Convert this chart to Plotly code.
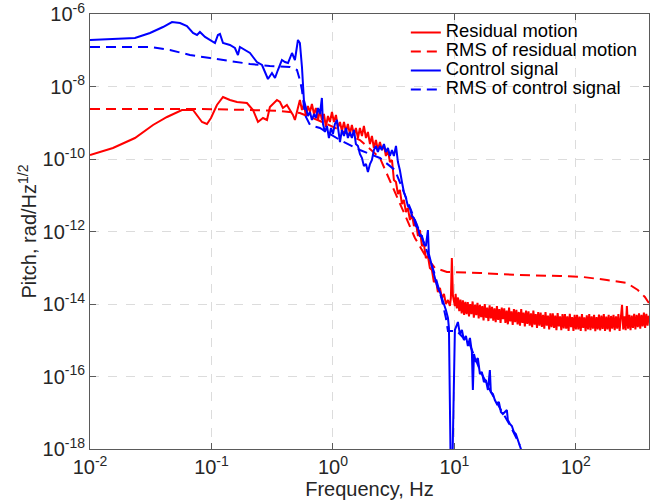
import numpy as np
import plotly.graph_objects as go

# ---------------- data (log10 of frequency in Hz, log10 of amplitude in rad/Hz^1/2) ----------------
# Residual motion (red solid)
resid_low_logf = [-2.000, -1.811, -1.630, -1.481, -1.366, -1.243, -1.152, -1.078, -1.037, -1.004,
                  -0.955, -0.905, -0.848, -0.790, -0.708, -0.658, -0.617, -0.576, -0.543, -0.519,
                  -0.461, -0.436, -0.412, -0.379, -0.354, -0.329, -0.313, -0.288]
resid_low_loga = [-9.890, -9.697, -9.421, -9.062, -8.841, -8.648, -8.648, -8.979, -9.034, -8.869,
                  -8.510, -8.290, -8.372, -8.428, -8.455, -8.648, -8.979, -8.869, -8.924, -8.566,
                  -8.372, -8.428, -8.593, -8.510, -8.648, -8.786, -8.924, -8.566]

resid_mid_logf = [-0.272, -0.255, -0.239, -0.222, -0.206, -0.189, -0.173, -0.156, -0.140, -0.123,
                  -0.107, -0.091, -0.074, -0.058, -0.041, -0.025, -0.008, 0.008, 0.025, 0.041,
                  0.058, 0.074, 0.091, 0.107, 0.123, 0.140, 0.156, 0.173, 0.189, 0.206,
                  0.222, 0.239, 0.255, 0.272, 0.288, 0.305, 0.321, 0.337, 0.354, 0.370,
                  0.387, 0.403, 0.420, 0.436, 0.453, 0.469, 0.486, 0.502, 0.519, 0.535,
                  0.551, 0.568, 0.584, 0.601, 0.617, 0.634, 0.650, 0.667, 0.683, 0.700,
                  0.716, 0.733, 0.749, 0.765, 0.782, 0.798, 0.815, 0.831, 0.848, 0.864,
                  0.881, 0.897, 0.914, 0.930, 0.947, 0.963, 0.971, 0.979, 0.988, 1.004]
resid_mid_loga = [-8.372, -8.648, -8.483, -8.814, -8.538, -8.703, -8.483, -8.759, -8.593, -8.924,
                  -8.648, -8.924, -8.759, -9.117, -8.814, -8.979, -8.703, -8.979, -8.786, -9.145,
                  -8.979, -9.228, -8.979, -9.255, -9.034, -9.310, -9.062, -9.338, -9.145, -9.421,
                  -9.145, -9.366, -9.090, -9.421, -9.255, -9.586, -9.366, -9.697, -9.476, -9.752,
                  -9.531, -9.752, -9.614, -9.917, -9.752, -10.083, -10.028, -10.579, -10.634, -10.966,
                  -10.855, -11.241, -11.131, -11.462, -11.352, -11.683, -11.517, -11.848, -11.738, -12.124,
                  -11.959, -12.400, -12.345, -12.731, -12.676, -13.007, -13.062, -13.393, -13.338, -13.669,
                  -13.559, -13.834, -13.724, -14.000, -13.890, -14.055, -13.834, -12.731, -13.779, -14.055]

resid_floor_logf = [1.01, 1.02, 1.03, 1.04, 1.05, 1.06, 1.07, 1.08, 1.09, 1.10,
                    1.11, 1.12, 1.13, 1.14, 1.15, 1.16, 1.17, 1.18, 1.19, 1.20,
                    1.21, 1.22, 1.23, 1.24, 1.25, 1.26, 1.27, 1.28, 1.29, 1.30,
                    1.31, 1.32, 1.33, 1.34, 1.35, 1.36, 1.37, 1.38, 1.39, 1.40,
                    1.41, 1.42, 1.43, 1.44, 1.45, 1.46, 1.47, 1.48, 1.49, 1.50,
                    1.51, 1.52, 1.53, 1.54, 1.55, 1.56, 1.57, 1.58, 1.59, 1.60,
                    1.61, 1.62, 1.63, 1.64, 1.65, 1.66, 1.67, 1.68, 1.69, 1.70,
                    1.71, 1.72, 1.73, 1.74, 1.75, 1.76, 1.77, 1.78, 1.79, 1.80,
                    1.81, 1.82, 1.83, 1.84, 1.85, 1.86, 1.87, 1.88, 1.89, 1.90,
                    1.91, 1.92, 1.93, 1.94, 1.95, 1.96, 1.97, 1.98, 1.99, 2.00,
                    2.01, 2.02, 2.03, 2.04, 2.05, 2.06, 2.07, 2.08, 2.09, 2.10,
                    2.11, 2.12, 2.13, 2.14, 2.15, 2.16, 2.17, 2.18, 2.19, 2.20,
                    2.21, 2.22, 2.23, 2.24, 2.25, 2.26, 2.27, 2.28, 2.29, 2.30,
                    2.31, 2.32, 2.33, 2.34, 2.35, 2.36, 2.37, 2.38, 2.39, 2.40,
                    2.41, 2.42, 2.43, 2.44, 2.45, 2.46, 2.47, 2.48, 2.49, 2.50,
                    2.51, 2.52, 2.53, 2.54, 2.55, 2.56, 2.57, 2.58, 2.59, 2.60]
resid_floor_loga = [-13.72, -14.12, -13.82, -14.20, -13.88, -14.26, -13.90, -14.30, -13.94, -14.28,
                    -13.95, -14.34, -14.00, -14.28, -13.93, -14.38, -14.02, -14.31, -13.97, -14.40,
                    -14.02, -14.36, -14.06, -14.45, -14.00, -14.38, -14.10, -14.47, -14.04, -14.40,
                    -14.08, -14.46, -14.12, -14.50, -14.06, -14.44, -14.14, -14.52, -14.10, -14.42,
                    -14.12, -14.52, -14.18, -14.56, -14.10, -14.48, -14.20, -14.58, -14.14, -14.50,
                    -14.16, -14.56, -14.22, -14.60, -14.14, -14.52, -14.24, -14.62, -14.18, -14.55,
                    -14.20, -14.60, -14.26, -14.64, -14.18, -14.57, -14.28, -14.66, -14.22, -14.60,
                    -14.24, -14.63, -14.30, -14.68, -14.22, -14.60, -14.32, -14.70, -14.26, -14.64,
                    -14.26, -14.66, -14.32, -14.72, -14.25, -14.62, -14.34, -14.72, -14.28, -14.67,
                    -14.28, -14.68, -14.34, -14.74, -14.27, -14.64, -14.36, -14.74, -14.30, -14.70,
                    -14.30, -14.70, -14.35, -14.74, -14.28, -14.66, -14.37, -14.75, -14.31, -14.70,
                    -14.28, -14.72, -14.34, -14.68, -14.30, -14.75, -14.36, -14.70, -14.29, -14.73,
                    -14.32, -14.69, -14.28, -14.74, -14.35, -14.70, -14.30, -14.76, -14.33, -14.68,
                    -14.30, -14.72, -14.34, -14.68, -14.28, -14.74, -14.32, -14.02, -14.70, -14.34,
                    -14.72, -14.06, -14.68, -14.30, -14.72, -14.32, -14.66, -14.27, -14.70, -14.30,
                    -14.64, -14.26, -14.68, -14.30, -14.62, -14.24, -14.66, -14.27, -14.60, -14.32]

# RMS of residual motion (red dashed)
rms_resid_logf = [-2.000, -1.095, -0.683, -0.436, -0.272, -0.107, 0.058, 0.222, 0.387, 0.510,
                  0.593, 0.675, 0.757, 0.840, 0.938, 1.210, 1.539, 1.868, 2.058, 2.255,
                  2.420, 2.510, 2.568, 2.601]
rms_resid_loga = [-8.621, -8.621, -8.648, -8.676, -8.731, -8.952, -9.200, -9.476, -9.972, -10.938,
                  -11.545, -12.179, -12.648, -13.007, -13.117, -13.145, -13.200, -13.228, -13.255, -13.338,
                  -13.421, -13.614, -13.807, -13.972]

# Control signal (blue solid)
ctrl_low_logf = [-2.000, -1.630, -1.506, -1.399, -1.325, -1.259, -1.202, -1.152, -1.119, -1.095,
                 -1.053, -1.012, -0.971, -0.947, -0.930, -0.905, -0.848, -0.807, -0.782, -0.766,
                 -0.724, -0.683, -0.658, -0.626, -0.584, -0.560, -0.535, -0.502, -0.477, -0.453,
                 -0.420, -0.395, -0.370, -0.337, -0.313]
ctrl_low_loga = [-6.717, -6.662, -6.524, -6.359, -6.221, -6.248, -6.331, -6.524, -6.579, -6.497,
                 -6.634, -6.717, -6.800, -6.579, -6.552, -6.800, -6.855, -6.938, -7.131, -6.910,
                 -6.993, -7.076, -7.186, -7.324, -7.407, -7.600, -7.793, -7.628, -7.766, -7.545,
                 -7.269, -7.324, -7.352, -7.076, -7.269]

ctrl_mid_logf = [-0.288, -0.272, -0.255, -0.247, -0.239, -0.222, -0.206, -0.189, -0.173, -0.156,
                 -0.140, -0.123, -0.107, -0.091, -0.082, -0.066, -0.049, -0.033, -0.016, 0.000,
                 0.016, 0.033, 0.049, 0.058, 0.074, 0.091, 0.107, 0.123, 0.140, 0.156,
                 0.173, 0.189, 0.206, 0.222, 0.239, 0.255, 0.272, 0.288, 0.305, 0.321,
                 0.337, 0.354, 0.370, 0.387, 0.403, 0.420, 0.436, 0.453, 0.469, 0.486,
                 0.502, 0.519, 0.535, 0.551, 0.568, 0.584, 0.601, 0.617, 0.634, 0.650,
                 0.667, 0.683, 0.700, 0.716, 0.733, 0.749, 0.765, 0.782, 0.790, 0.798,
                 0.815, 0.831, 0.848, 0.864, 0.881, 0.897, 0.914, 0.930, 0.947, 0.955,
                 0.975, 1.004]
ctrl_mid_loga = [-6.717, -6.800, -7.462, -8.014, -8.372, -8.593, -8.814, -8.703, -8.924, -8.759,
                 -8.869, -8.593, -8.759, -8.317, -9.034, -9.255, -9.090, -9.421, -9.145, -9.310,
                 -9.034, -8.924, -9.310, -9.531, -9.200, -9.366, -9.145, -9.421, -9.255, -9.421,
                 -9.200, -9.586, -9.641, -9.862, -9.972, -10.193, -10.138, -10.359, -10.138, -10.028,
                 -9.752, -9.641, -9.807, -9.641, -9.752, -9.586, -9.807, -9.697, -9.917, -9.752,
                 -9.917, -9.641, -10.083, -10.303, -10.634, -10.910, -11.076, -11.297, -11.352, -11.572,
                 -11.628, -11.848, -11.903, -12.124, -12.124, -12.345, -12.400, -11.959, -12.621, -12.731,
                 -13.007, -13.172, -13.393, -13.559, -13.669, -13.834, -14.000, -14.166, -14.386, -14.662,
                 -20.000, -14.717]

ctrl_high_logf = [1.029, 1.045, 1.062, 1.078, 1.095, 1.111, 1.128, 1.144, 1.152, 1.161,
                  1.177, 1.193, 1.210, 1.226, 1.243, 1.259, 1.276, 1.292, 1.300, 1.317,
                  1.333, 1.350, 1.366, 1.383, 1.399, 1.416, 1.432, 1.440, 1.457, 1.473,
                  1.490, 1.506, 1.523, 1.539, 1.556]
ctrl_high_loga = [-14.497, -14.828, -14.717, -14.993, -14.883, -15.159, -14.938, -15.324, -16.372, -15.379,
                  -15.600, -15.490, -15.931, -15.876, -16.152, -16.097, -16.372, -15.821, -16.428, -16.483,
                  -16.648, -16.759, -16.703, -16.979, -17.034, -16.979, -16.924, -17.200, -17.310, -17.366,
                  -17.531, -17.586, -17.752, -17.862, -18.083]

# RMS of control signal (blue dashed)
rms_ctrl_logf = [-2.000, -1.506, -1.342, -1.177, -1.012, -0.848, -0.683, -0.519, -0.354, -0.296,
                 -0.272, -0.255, -0.230, -0.189, -0.107, 0.058, 0.222, 0.387, 0.510, 0.593,
                 0.675, 0.757, 0.840, 0.897, 0.930, 0.947, 1.021, 1.062, 1.128, 1.210,
                 1.292, 1.374, 1.457, 1.539]
rms_ctrl_loga = [-6.910, -6.910, -6.993, -7.131, -7.214, -7.297, -7.379, -7.434, -7.462, -7.545,
                 -7.821, -8.097, -8.786, -9.062, -9.145, -9.476, -9.752, -9.972, -10.303, -10.993,
                 -11.683, -12.372, -13.200, -13.890, -14.386, -14.745, -14.745, -14.883, -15.131, -15.821,
                 -16.372, -16.869, -17.338, -17.890]

series_names = ["Residual motion", "RMS of residual motion", "Control signal", "RMS of control signal"]
x_tick_exp = [-2, -1, 0, 1, 2]
y_tick_exp = [-18, -16, -14, -12, -10, -8, -6]
f_max = 400.0


def p10(a):
    return np.power(10.0, np.asarray(a, dtype=float))


resid_f = p10(resid_low_logf + resid_mid_logf + resid_floor_logf)
resid_a = p10(resid_low_loga + resid_mid_loga + resid_floor_loga)
ctrl_f = p10(ctrl_low_logf + ctrl_mid_logf + ctrl_high_logf)
ctrl_a = p10(ctrl_low_loga + ctrl_mid_loga + ctrl_high_loga)

RED = "#ff0000"
BLUE = "#0000ff"
FONT = "Liberation Sans, Arial, Helvetica, sans-serif"


def legend_label(s):
    return f'<span style="font-size:18.4px">{s}</span>'


fig = go.Figure()
fig.add_trace(go.Scatter(x=resid_f, y=resid_a, mode="lines", name=legend_label(series_names[0]),
                         line=dict(color=RED, width=2)))
fig.add_trace(go.Scatter(x=p10(rms_resid_logf), y=p10(rms_resid_loga), mode="lines",
                         name=legend_label(series_names[1]),
                         line=dict(color=RED, width=2, dash="10px,6px")))
fig.add_trace(go.Scatter(x=ctrl_f, y=ctrl_a, mode="lines", name=legend_label(series_names[2]),
                         line=dict(color=BLUE, width=2)))
fig.add_trace(go.Scatter(x=p10(rms_ctrl_logf), y=p10(rms_ctrl_loga), mode="lines",
                         name=legend_label(series_names[3]),
                         line=dict(color=BLUE, width=2, dash="10px,6px")))

axis_common = dict(
    type="log",
    automargin=False,
    ticklabeloverflow="allow",
    showgrid=True, gridcolor="#dcdcdc", griddash="dash", gridwidth=1,
    showline=True, linecolor="#5a5a5a", linewidth=1, mirror="ticks",
    ticks="inside", ticklen=6, tickcolor="#5a5a5a", tickwidth=1,
    tickfont=dict(family=FONT, size=20, color="#262626"),
    zeroline=False,
)

fig.update_layout(
    width=671, height=504,
    margin=dict(l=90, r=22, t=14, b=55),
    paper_bgcolor="white", plot_bgcolor="white",
    font=dict(family=FONT, color="#262626"),
    xaxis=dict(axis_common, range=[-2, np.log10(f_max)],
               tickvals=[10.0 ** e for e in x_tick_exp],
               ticktext=[f"10<sup>{e}</sup>" for e in x_tick_exp],
               title=dict(text="Frequency, Hz", font=dict(family=FONT, size=20, color="#262626"), standoff=4)),
    yaxis=dict(axis_common, range=[-18, -6],
               tickvals=[10.0 ** e for e in y_tick_exp],
               ticktext=[f"10<sup>{e}</sup>" for e in y_tick_exp],
               title=dict(text="Pitch, rad/Hz<sup>1/2</sup>", font=dict(family=FONT, size=20, color="#262626"),
                          standoff=0)),
    legend=dict(x=0.565, y=0.991, xanchor="left", yanchor="top", bgcolor="rgba(0,0,0,0)",
                font=dict(family=FONT, size=12, color="#000000"), tracegroupgap=0, itemwidth=30),
    showlegend=True,
)

fig.write_html("out.html", config={"displayModeBar": False},
               post_script="document.body.style.margin='0px';")
